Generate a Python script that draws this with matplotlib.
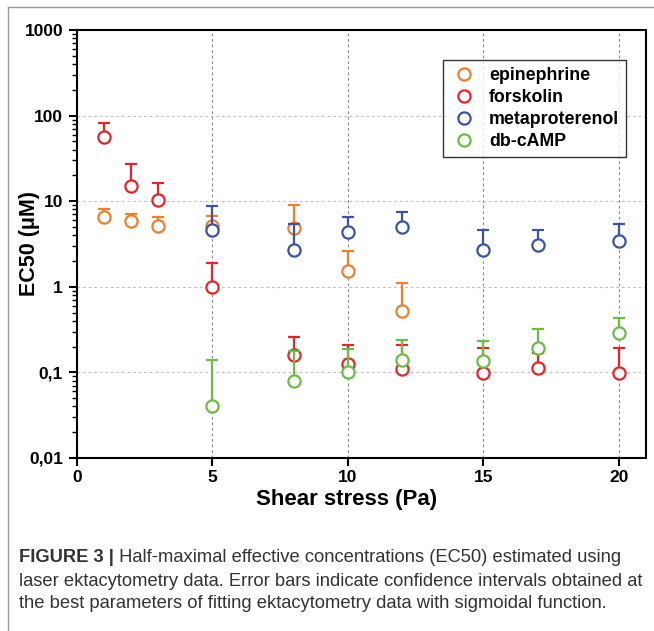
import matplotlib
matplotlib.use("Agg")
import matplotlib.pyplot as plt
import numpy as np
from matplotlib.ticker import LogLocator, FixedLocator, NullFormatter
from matplotlib.lines import Line2D

plt.rcParams['font.family'] = ['Liberation Sans', 'DejaVu Sans']

# ---- data ----
epi_x = [1, 2, 3, 5, 8, 10, 12]
epi_y = [6.6, 5.8, 5.2, 5.2, 4.9, 1.55, 0.52]
epi_hi = [8.2, 7.1, 6.6, 6.7, 9.0, 2.6, 1.1]

fsk_x = [1, 2, 3, 5, 8, 10, 12, 15, 17, 20]
fsk_y = [56.5, 15.1, 10.4, 0.99, 0.16, 0.125, 0.109, 0.099, 0.112, 0.099]
fsk_hi = [81, 27, 16.4, 1.92, 0.26, 0.21, 0.21, 0.195, 0.17, 0.195]

met_x = [5, 8, 10, 12, 15, 17, 20]
met_y = [4.55, 2.7, 4.35, 5.0, 2.7, 3.04, 3.42]
met_hi = [8.8, 5.4, 6.6, 7.5, 4.55, 4.55, 5.4]

cmp_x = [5, 8, 10, 12, 15, 17, 20]
cmp_y = [0.04, 0.08, 0.1, 0.14, 0.137, 0.194, 0.29]
cmp_hi = [0.139, 0.177, 0.19, 0.236, 0.23, 0.32, 0.435]

labels = ['epinephrine', 'forskolin', 'metaproterenol', 'db-cAMP']
colors = ['#F07F2C', '#EC2227', '#3A53A4', '#6BBD45']

x_ticks = [0, 5, 10, 15, 20]
y_ticks = [0.01, 0.1, 1, 10, 100, 1000]
y_ticklabels = ['0,01', '0,1', '1', '10', '100', '1000']

W, H = 654, 631
fig = plt.figure(figsize=(W / 100, H / 100), dpi=100)

# frame lines of the figure panel
fig.add_artist(Line2D([8 / W, 8 / W], [0, 1 - 7 / H], transform=fig.transFigure,
                      color='#9a9a9a', lw=1.0))
fig.add_artist(Line2D([8 / W, 1], [1 - 7 / H, 1 - 7 / H], transform=fig.transFigure,
                      color='#9a9a9a', lw=1.0))

ax = fig.add_axes([77 / W, 1 - 458 / H, (646 - 77) / W, (458 - 30) / H])
ax.set_yscale('log')
ax.set_xlim(0, 21)
ax.set_ylim(0.01, 1000)

series = [(epi_x, epi_y, epi_hi), (fsk_x, fsk_y, fsk_hi),
          (met_x, met_y, met_hi), (cmp_x, cmp_y, cmp_hi)]
for i, ((xs, ys, hs), lab, c) in enumerate(zip(series, labels, colors)):
    ys = np.array(ys)
    hs = np.array(hs)
    yerr = [np.zeros_like(ys), hs - ys]
    ax.errorbar(xs, ys, yerr=yerr, fmt='o', color=c, mfc='white', mec=c,
                ms=8.8, mew=1.6, elinewidth=1.6, capsize=4.5, capthick=1.6,
                label=lab, zorder=3 + i, clip_on=False)

ax.xaxis.set_major_locator(FixedLocator(x_ticks))
ax.set_xticklabels([str(t) for t in x_ticks])
ax.yaxis.set_major_locator(FixedLocator(y_ticks))
ax.set_yticklabels(y_ticklabels)
ax.yaxis.set_minor_locator(LogLocator(base=10, subs=np.arange(2, 10), numticks=20))
ax.yaxis.set_minor_formatter(NullFormatter())

for lab in ax.get_xticklabels() + ax.get_yticklabels():
    lab.set_fontweight('bold')
    lab.set_fontsize(12.5)

ax.tick_params(axis='both', which='major', direction='out', length=6, width=1.5, pad=4)
ax.tick_params(axis='y', which='minor', direction='out', length=3.5, width=1.0)
ax.tick_params(axis='x', which='major', pad=3)

for s in ax.spines.values():
    s.set_linewidth(1.5)

ax.grid(True, axis='x', which='major', linestyle=(0, (2.5, 2.5)), color='#8a8a8a', lw=0.8)
ax.grid(True, axis='y', which='major', linestyle=(0, (2.5, 2.5)), color='#c0c0c0', lw=0.8)
ax.set_axisbelow(True)

ax.set_xlabel('Shear stress (Pa)', fontsize=16, fontweight='bold')
ax.xaxis.set_label_coords((347 - 77) / 569, -(500 - 458) / 428)
ax.xaxis.label.set_va('center')
ax.set_ylabel('EC50 (\u03bcM)', fontsize=15.5, fontweight='bold')
ax.yaxis.set_label_coords(-(77 - 30) / 569, 0.5)
ax.yaxis.label.set_va('center')

handles, labs = ax.get_legend_handles_labels()
handles = [h[0] for h in handles]
leg = ax.legend(handles, labs, loc='upper left',
                bbox_to_anchor=((443 - 77) / 569, (458 - 60) / 428),
                borderaxespad=0, frameon=True, fancybox=False, edgecolor='black',
                prop={'weight': 'bold', 'size': 12.8}, handlelength=1.6,
                handletextpad=0.6, labelspacing=0.28, borderpad=0.4)
leg.get_frame().set_linewidth(1.0)
leg.set_zorder(20)

# caption
cap_color = '#333333'
fs_cap = 13.2
y1 = 1 - 558 / H
t_bold = fig.text(19 / W, y1, 'FIGURE 3 |', fontsize=fs_cap, fontweight='bold',
                  color=cap_color, va='center', ha='left')
ax.annotate(' Half-maximal effective concentrations (EC50) estimated using',
            xy=(1, 0.5), xycoords=t_bold, va='center', ha='left',
            fontsize=fs_cap, color=cap_color, annotation_clip=False)
fig.text(19 / W, 1 - 581 / H,
         'laser ektacytometry data. Error bars indicate confidence intervals obtained at',
         fontsize=fs_cap, color=cap_color, va='center', ha='left')
fig.text(19 / W, 1 - 604 / H,
         'the best parameters of fitting ektacytometry data with sigmoidal function.',
         fontsize=fs_cap, color=cap_color, va='center', ha='left')

fig.savefig('out.png', dpi=100)
